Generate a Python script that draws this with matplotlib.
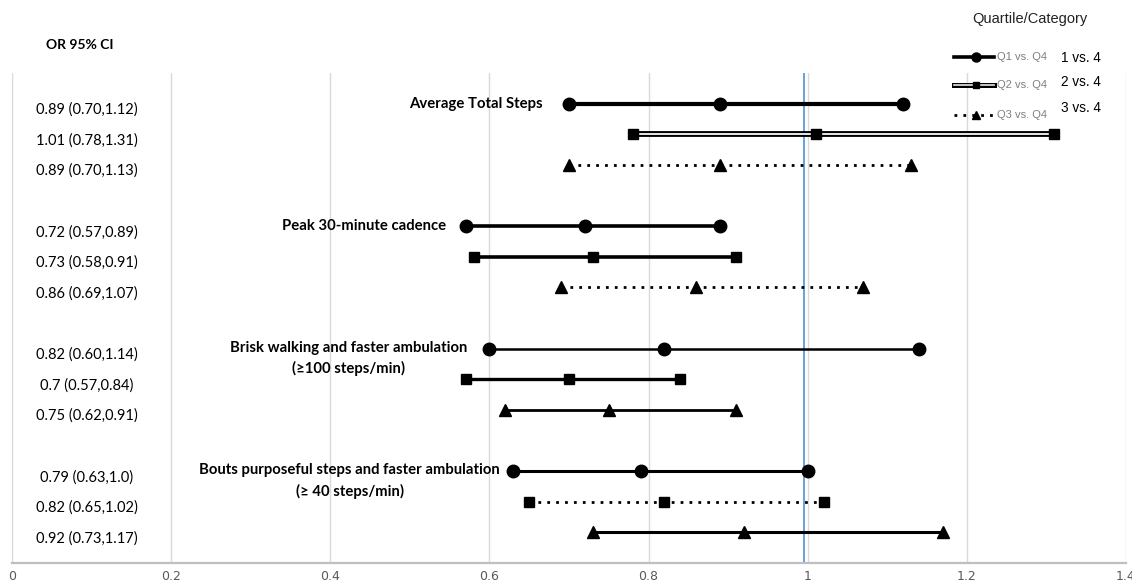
import matplotlib
matplotlib.use("Agg")
import matplotlib.pyplot as plt

# ---------------- data ----------------
categories = ["Average Total Steps",
              "Peak 30-minute cadence",
              "Brisk walking and faster ambulation\n(\u2265100 steps/min)",
              "Bouts purposeful steps and faster ambulation\n(\u2265 40 steps/min)"]
comparisons = ["Q1 vs. Q4", "Q2 vs. Q4", "Q3 vs. Q4"]
legend_names = ["1 vs. 4", "2 vs. 4", "3 vs. 4"]

# rows: (category, comparison) -> OR, lower, upper
or_vals = [0.89, 1.01, 0.89,
           0.72, 0.73, 0.86,
           0.82, 0.70, 0.75,
           0.79, 0.82, 0.92]
lower = [0.70, 0.78, 0.70,
         0.57, 0.58, 0.69,
         0.60, 0.57, 0.62,
         0.63, 0.65, 0.73]
upper = [1.12, 1.31, 1.13,
         0.89, 0.91, 1.07,
         1.14, 0.84, 0.91,
         1.00, 1.02, 1.17]
row_labels = ["0.89 (0.70,1.12)", "1.01 (0.78,1.31)", "0.89 (0.70,1.13)",
              "0.72 (0.57,0.89)", "0.73 (0.58,0.91)", "0.86 (0.69,1.07)",
              "0.82 (0.60,1.14)", "0.7 (0.57,0.84)", "0.75 (0.62,0.91)",
              "0.79 (0.63,1.0)", "0.82 (0.65,1.02)", "0.92 (0.73,1.17)"]
ref_line = 0.995
xticks = [0, 0.2, 0.4, 0.6, 0.8, 1, 1.2, 1.4]
xtick_labels = ["0", "0.2", "0.4", "0.6", "0.8", "1", "1.2", "1.4"]

# ---------------- styles ----------------
markers = ["o", "s", "^"]
msizes = [9, 7, 8]
row_style = ["solid", "double", "dot",
             "solid", "solid", "dot",
             "solid", "solid", "solid",
             "solid", "dot", "solid"]
row_lw = [3.0, 3.0, 2.0,
          2.6, 2.6, 2.0,
          1.8, 2.4, 2.0,
          2.2, 2.0, 2.2]

W, H = 1132, 586
fig = plt.figure(figsize=(W / 100, H / 100), dpi=100)
left_px, right_px, top_px, bot_px = 12, 1126, 73, 563
ax = fig.add_axes([left_px / W, 1 - bot_px / H, (right_px - left_px) / W, (bot_px - top_px) / H])

body_font = ["Lato", "DejaVu Sans"]
narrow_font = ["Liberation Sans Narrow", "DejaVu Sans"]
arial_font = ["Liberation Sans", "DejaVu Sans"]

ax.set_xlim(0, 1.4)
ax.set_ylim(15, -1)
ax.set_xticks(xticks)
ax.set_xticklabels(xtick_labels, family=narrow_font, fontsize=9, color="#595959")
ax.set_yticks([])
ax.tick_params(axis="x", length=0, pad=5)
ax.grid(axis="x", color="#d9d9d9", lw=1)
ax.set_axisbelow(True)
for s in ["top", "right", "left"]:
    ax.spines[s].set_visible(False)
ax.spines["bottom"].set_color("#bfbfbf")
ax.spines["bottom"].set_linewidth(1.6)

ax.axvline(ref_line, color="#5b9bd5", lw=1.3, zorder=1)

rows = []
for g in range(len(categories)):
    for k in range(len(comparisons)):
        rows.append(g * 4 + k)

for i, y in enumerate(rows):
    k = i % 3
    xs = [lower[i], or_vals[i], upper[i]]
    st = row_style[i]
    lw = row_lw[i]
    if st == "solid":
        ax.plot(xs, [y] * 3, color="black", lw=lw, zorder=3)
    elif st == "double":
        ax.plot(xs, [y] * 3, color="black", lw=4.2, zorder=3)
        ax.plot(xs, [y] * 3, color="#e8e8e8", lw=1.4, zorder=3.5)
    else:
        ax.plot(xs, [y] * 3, color="black", lw=lw, ls=(0, (1, 2.2)), zorder=3)
    ax.plot(xs, [y] * 3, ls="none", marker=markers[k], ms=msizes[k],
            color="black", zorder=4)
    ax.text(0.094, y + 0.2, row_labels[i], ha="center", va="center",
            family=body_font, fontsize=10.5, color="black")

# category labels
cat_fs = 10.7
ax.text(0.667, 0, categories[0], ha="right", va="center", family=body_font,
        fontsize=cat_fs, fontweight="bold")
ax.text(0.546, 4, categories[1], ha="right", va="center", family=body_font,
        fontsize=cat_fs, fontweight="bold")
ax.text(0.423, 8.32, categories[2], ha="center", va="center", family=body_font,
        fontsize=cat_fs, fontweight="bold", linespacing=1.55)
ax.text(0.4245, 12.32, categories[3], ha="center", va="center", family=body_font,
        fontsize=cat_fs, fontweight="bold", linespacing=1.55)

# overlay for header and legend (pixel coords)
ov = fig.add_axes([0, 0, 1, 1])
ov.set_xlim(0, W)
ov.set_ylim(H, 0)
ov.axis("off")
ov.text(80, 45, "OR 95% CI", ha="center", va="center", family=body_font,
        fontsize=10, fontweight="bold")
ov.text(1030, 19, "Quartile/Category", ha="center", va="center",
        family=arial_font, fontsize=10.5, color="#222222")

leg_y = [57, 85, 115]
leg_txt_y = [58, 82, 108]
for k in range(3):
    y = leg_y[k]
    if k == 0:
        ov.plot([954, 994], [y, y], color="black", lw=2.6)
    elif k == 1:
        ov.plot([954, 994], [y, y], color="black", lw=3.6)
        ov.plot([954, 994], [y, y], color="#e8e8e8", lw=1.2)
    else:
        ov.plot([954, 994], [y, y], color="black", lw=2.0, ls=(0, (1, 2.2)))
    ov.plot([976], [y], ls="none", marker=markers[k], ms=msizes[k] - 2.5, color="black")
    ov.text(997, y, comparisons[k], ha="left", va="center",
            family=arial_font, fontsize=8, color="#7f7f7f")
    ov.text(1061, leg_txt_y[k], legend_names[k], ha="left", va="center",
            family=arial_font, fontsize=9.8, color="black")

fig.savefig("out.png", dpi=100)
